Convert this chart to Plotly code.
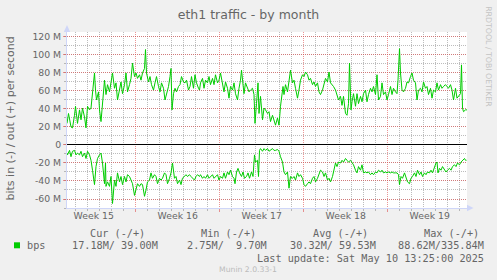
import plotly.graph_objects as go
from datetime import datetime, timedelta

# ---------------- data ----------------
START = datetime(2025, 4, 7, 6, 36)
END = datetime(2025, 5, 10, 14, 36)

# out (+) series: hours since START, Mbit/s
out_hours = [0,3,8,11,15,17,21,25,28,31,35,38,41,45,48,51,55,57,59,63,65,68,71,75,78,81,85,88,91,95,
             98,101,105,108,111,115,118,121,125,128,131,135,138,141,145,148,151,155,157,159,163,166,169,173,176,179,183,186,189,193,
             196,199,203,206,208,210,213,216,219,223,226,229,233,236,239,243,246,249,253,256,259,263,265,
             267,271,274,277,281,284,287,291,294,297,301,304,307,311,314,317,321,324,327,331,334,337,341,344,347,349,352,354,357,361,
             364,367,371,374,376,379,382,384,387,391,394,397,401,404,407,411,414,417,421,424,427,429,432,434,437,441,444,447,451,454,
             457,461,464,467,471,474,477,481,484,487,491,494,497,501,504,507,511,514,517,521,524,527,531,
             533,537,540,543,547,550,553,557,560,563,565,568,570,573,577,580,583,587,590,593,597,600,603,607,610,613,617,620,623,627,
             630,633,637,640,643,647,650,653,657,660,662,665,667,670,673,677,680,683,687,690,693,697,700,703,707,710,713,717,720,723,
             727,730,733,737,740,743,747,750,753,757,760,763,767,770,773,777,780,783,787,789,791,793,797,800]
out_mbps = [24,35,20,19,33,43,24,39,28,41,31,19,43,39,41,61,80,61,50,59,39,26,46,72,56,67,59,69,80,63,
            69,50,63,70,57,67,80,59,67,74,91,76,80,74,78,72,80,85,106,80,70,76,67,61,69,76,65,59,69,63,
            50,57,65,76,85,39,57,63,59,65,67,76,70,69,72,61,65,76,63,78,69,63,61,
            69,74,63,72,69,76,67,74,67,78,69,72,80,67,59,70,63,52,65,61,69,57,50,63,72,83,65,57,69,63,
            59,61,63,56,24,46,69,35,54,28,41,39,35,37,26,33,28,22,30,22,43,54,65,56,67,59,69,83,69,72,
            63,52,61,72,78,76,81,78,72,74,67,70,65,69,59,56,61,69,74,70,81,69,67,
            65,61,54,50,54,44,54,35,33,46,91,39,48,57,43,57,46,54,48,57,61,48,56,63,59,65,56,78,50,54,
            69,56,59,50,56,65,56,63,59,57,72,107,80,61,59,63,70,69,76,80,72,69,50,61,63,59,70,63,65,56,
            63,52,61,59,69,61,67,63,65,67,65,63,67,61,50,63,52,54,57,89,41,37,39,39]

# in (-) series: hours since START, Mbit/s (drawn negative)
in_hours = [0,1,5,8,11,15,18,21,25,28,31,35,38,41,45,48,51,55,58,61,65,68,71,75,77,78,81,85,88,91,
            95,98,101,105,108,111,115,118,121,125,128,131,135,138,141,145,148,151,155,158,161,165,168,171,175,178,181,185,188,191,
            195,198,201,205,208,211,215,218,221,225,228,231,235,238,241,245,248,251,255,258,261,265,
            267,271,274,277,281,284,287,291,294,297,301,304,307,311,314,317,321,324,327,331,334,336,339,342,345,349,352,355,359,362,
            365,369,372,375,377,381,383,385,387,391,394,397,401,404,407,411,414,417,421,424,427,431,434,437,441,444,447,451,454,457,
            461,464,467,471,474,477,481,484,487,491,494,497,501,504,507,511,514,517,521,524,527,531,
            533,537,540,543,547,550,553,557,560,563,567,570,573,577,580,583,587,590,593,597,600,603,607,610,613,617,620,623,627,630,
            633,637,640,643,647,650,653,657,660,663,665,668,671,675,678,681,685,688,691,695,698,701,705,708,711,715,718,721,725,728,
            731,735,738,740,742,745,748,751,755,758,761,765,768,771,775,778,781,785,788,791,795,797,799]
in_mbps = [-9,-11,-6,-13,-7,-6,-11,-9,-11,-7,-13,-9,-15,-7,-11,-17,-28,-44,-24,-15,-11,-9,-20,-43,-20,-46,-41,-46,-35,-65,
           -39,-46,-31,-41,-35,-44,-35,-41,-33,-35,-39,-43,-56,-50,-43,-46,-43,-44,-57,-50,-41,-39,-31,-37,-33,-35,-43,-37,-39,-37,
           -31,-33,-43,-37,-31,-20,-37,-35,-43,-39,-44,-37,-35,-33,-35,-33,-35,-37,-39,-35,-33,-35,
           -33,-37,-35,-37,-33,-37,-35,-33,-37,-35,-33,-39,-35,-37,-31,-37,-30,-33,-28,-35,-37,-43,-30,-26,-31,-35,-30,-37,-35,-31,
           -37,-30,-35,-11,-19,-17,-35,-6,-4,-7,-4,-6,-4,-7,-6,-4,-6,-6,-5,-7,-13,-19,-30,-33,-30,-48,-35,-37,-35,-39,
           -31,-35,-33,-37,-44,-46,-43,-41,-43,-37,-35,-41,-37,-31,-28,-30,-35,-31,-39,-37,-41,-35,
           -30,-20,-24,-19,-20,-17,-19,-15,-17,-19,-17,-20,-22,-28,-31,-24,-28,-22,-31,-30,-31,-30,-33,-31,-33,-30,-31,-28,-30,-28,
           -31,-30,-31,-30,-31,-30,-31,-31,-31,-33,-44,-35,-37,-31,-37,-41,-43,-37,-35,-31,-35,-28,-33,-30,-35,-31,-33,-30,-31,-28,
           -31,-24,-20,-19,-31,-26,-28,-24,-28,-30,-28,-26,-28,-24,-22,-24,-20,-22,-19,-17,-15,-17,-17]

week_starts = ["2025-04-06", "2025-04-13", "2025-04-20", "2025-04-27", "2025-05-04"]
week_labels = ["Week 15", "Week 16", "Week 17", "Week 18", "Week 19"]

y_ticks = [-60, -40, -20, 0, 20, 40, 60, 80, 100, 120]
y_ticktext = [("%d M" % v) if v != 0 else "0" for v in y_ticks]

legend_name = "bps"
legend_headers = ["Cur (-/+)", "Min (-/+)", "Avg (-/+)", "Max (-/+)"]
legend_values = ["17.18M/ 39.00M", "2.75M/  9.70M", "30.32M/ 59.53M", "88.62M/335.84M"]
last_update = "Last update: Sat May 10 13:25:00 2025"

# ---------------- layout helpers ----------------
W, H = 497, 280
PL, PR, PT, PB = 67, 467, 32, 208


def px(x):
    return (x - PL) / (PR - PL)


def py(y):
    return (PB - y) / (PB - PT)


def nb(s):
    return s.replace(" ", "\u00a0")


FONT = "DejaVu Sans, Liberation Sans, sans-serif"
MONO = "DejaVu Sans Mono, Liberation Mono, monospace"
FG = "#666666"
GREEN = "#00CC00"
AXIS = "#CFD6F8"
MGRID = "rgba(222,79,79,0.6)"
GRID = "rgba(143,143,143,0.6)"

t_out = [START + timedelta(hours=h) for h in out_hours]
t_in = [START + timedelta(hours=h) for h in in_hours]
DAY_MS = 86400000
label_vals = [datetime.fromisoformat(d) + timedelta(days=3.5) for d in week_starts]

fig = go.Figure()
fig.add_trace(go.Scatter(x=t_out, y=out_mbps, mode="lines",
                         line=dict(color=GREEN, width=1), hoverinfo="skip", showlegend=False))
fig.add_trace(go.Scatter(x=t_in, y=in_mbps, mode="lines", xaxis="x2",
                         line=dict(color=GREEN, width=1), hoverinfo="skip", showlegend=False))


def ann(x, y, text, size, family=FONT, color=FG, xanchor="left", angle=0):
    return dict(x=px(x), y=py(y), xref="paper", yref="paper", text=text, textangle=angle,
                showarrow=False, xanchor=xanchor, yanchor="middle", borderpad=0, borderwidth=0,
                font=dict(family=family, size=size, color=color))


annotations = [
    ann(10.5, 119, "bits in (-) / out (+) per second", 11, xanchor="center", angle=-90),
    ann(488.3, 56.5, "RRDTOOL / TOBI OETIKER", 7.8, color="#C4C4C4", xanchor="center", angle=90),
    ann(26.5, 245.5, legend_name, 10.2, family=MONO),
]
for hx, h in zip([89.5, 201.2, 312.8, 423.5], legend_headers):
    annotations.append(ann(hx, 233, nb(h), 10.2, family=MONO))
for vx, v in zip([158.3, 267.3, 375.6, 483.9], legend_values):
    annotations.append(ann(vx, 245.5, nb(v), 10.2, family=MONO, xanchor="right"))
annotations.append(ann(483.9, 258, nb(last_update), 10.2, family=MONO, xanchor="right"))
annotations.append(ann(248, 269.5, "Munin 2.0.33-1", 7.7, color="#BBBBBB", xanchor="center"))

shapes = [
    # legend colour box
    dict(type="rect", xref="paper", yref="paper", x0=px(14), x1=px(20), y0=py(248.3), y1=py(242.3),
         fillcolor=GREEN, line=dict(width=0)),
    # axis arrows
    dict(type="path", xref="paper", yref="paper",
         path="M %f,%f L %f,%f L %f,%f Z" % (px(63.8), py(32), px(70.2), py(32), px(67), py(25)),
         fillcolor=AXIS, line=dict(width=0)),
    dict(type="path", xref="paper", yref="paper",
         path="M %f,%f L %f,%f L %f,%f Z" % (px(467), py(204.8), px(467), py(211.2), px(473.5), py(208)),
         fillcolor=AXIS, line=dict(width=0)),
]

fig.update_layout(
    width=W, height=H,
    margin=dict(l=PL, r=W - PR, t=PT, b=H - PB, pad=0),
    paper_bgcolor="#F0F0F0", plot_bgcolor="#FFFFFF",
    title=dict(text="eth1 traffic - by month", x=0.5, xref="container", xanchor="center",
               y=1 - 14.5 / H, yanchor="middle", font=dict(family=FONT, size=12.5, color=FG)),
    showlegend=False,
    annotations=annotations,
    shapes=shapes,
    xaxis=dict(type="date", range=[START, END], tickmode="linear", tick0=week_starts[0],
               dtick=7 * DAY_MS, showticklabels=False, showgrid=True, gridcolor=MGRID,
               griddash="1px,1px", gridwidth=1, ticks="outside", ticklen=3, tickcolor=MGRID,
               showline=True, linecolor=AXIS, linewidth=1, zeroline=False, fixedrange=True,
               minor=dict(tickmode="linear", tick0=week_starts[0], dtick=DAY_MS, showgrid=True,
                          gridcolor=GRID, griddash="1px,1px", gridwidth=1,
                          ticks="outside", ticklen=2, tickcolor=GRID)),
    xaxis2=dict(type="date", range=[START, END], overlaying="x", anchor="y", side="bottom",
                tickmode="array", tickvals=label_vals, ticktext=week_labels,
                showgrid=False, ticks="", showline=False, zeroline=False, fixedrange=True,
                ticklabelstandoff=1,
                tickfont=dict(family=FONT, size=9.3, color=FG)),
    yaxis=dict(range=[-70, 125.5], tickmode="array", tickvals=y_ticks, ticktext=y_ticktext,
               showgrid=True, gridcolor=MGRID, griddash="1px,1px", gridwidth=1,
               zeroline=True, zerolinecolor="#000000", zerolinewidth=1,
               showline=True, linecolor=AXIS, linewidth=1,
               ticks="outside", ticklen=3, tickcolor=MGRID, fixedrange=True,
               tickfont=dict(family=FONT, size=9.3, color=FG),
               minor=dict(tickmode="linear", tick0=0, dtick=10, showgrid=True,
                          gridcolor=GRID, griddash="1px,1px", gridwidth=1,
                          ticks="outside", ticklen=2, tickcolor=GRID)),
)

fig.write_html("out.html")
